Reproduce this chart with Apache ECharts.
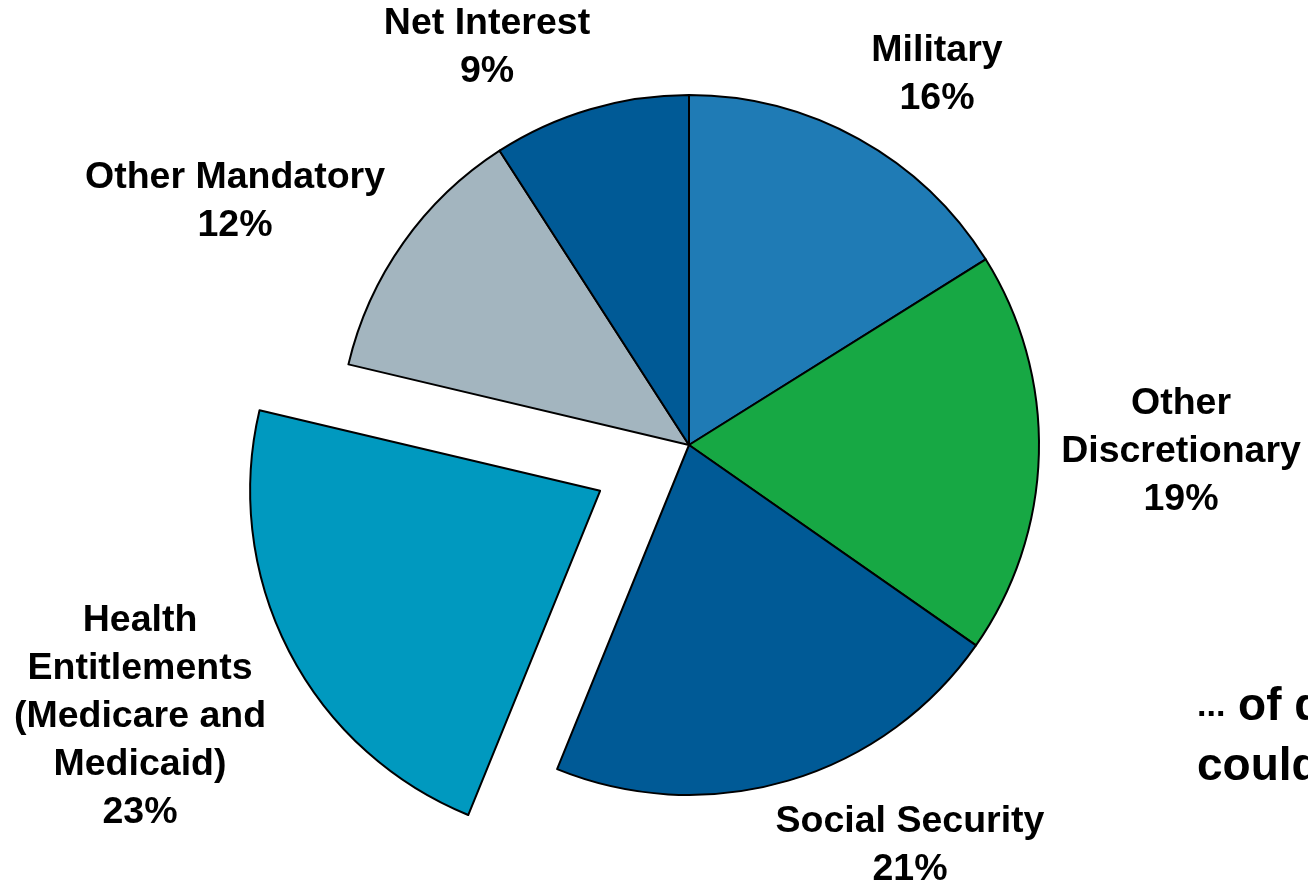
<!DOCTYPE html>
<html>
<head>
<meta charset="utf-8">
<title>Budget pie</title>
<script src="https://cdn.jsdelivr.net/npm/echarts@6/dist/echarts.min.js"></script>
<style>
  html, body { margin: 0; padding: 0; background: #fff; }
  #chart { width: 1308px; height: 885px; }
</style>
</head>
<body>
<div id="chart"></div>
<script>
// slices, clockwise from 12 o'clock (shares in %, labels show them rounded)
const categories = ['Military', 'Other\nDiscretionary', 'Social Security',
  'Health\nEntitlements\n(Medicare and\nMedicaid)', 'Other Mandatory', 'Net Interest'];
const shares = [16.1, 18.6, 21.45, 22.55, 12.2, 9.1];
const colors = ['#1f7bb5', '#17a844', '#005a96', '#0099bf', '#a3b5bf', '#005a96'];
const exploded = [false, false, false, true, false, false];

// where each label block sits (centre of the text)
const labelPos = [[937, 75], [1181, 452], [910, 846], [140, 717], [235, 202], [487, 48]];

const chart = echarts.init(document.getElementById('chart'));

const labelBase = {
  position: 'outside',
  formatter: (p) => p.name + '\n' + Math.round(p.value) + '%',
  fontFamily: 'Liberation Sans, Arial, sans-serif',
  fontWeight: 'bold',
  fontSize: 37.5,
  lineHeight: 48,
  color: '#000',
  width: 330,
  overflow: 'none'
};

const placeLabel = (params) => ({
  x: labelPos[params.dataIndex][0],
  y: labelPos[params.dataIndex][1],
  align: 'center',
  verticalAlign: 'middle'
});

// the slices; the exploded one's label would be dragged along by the select
// state, so its label comes from the invisible copy below instead
const pieData = categories.map((name, i) => ({
  name: name,
  value: shares[i],
  selected: exploded[i],
  itemStyle: { color: colors[i] },
  label: { show: !exploded[i] },
  select: { itemStyle: { color: colors[i], borderColor: '#000', borderWidth: 2 } }
}));

// invisible copy that only carries the exploded slice's label
const labelData = categories.map((name, i) => ({
  name: name,
  value: shares[i],
  label: { show: exploded[i] }
}));

chart.setOption({
  animation: false,
  series: [
    {
      type: 'pie',
      center: [689, 445],
      radius: 350,
      startAngle: 90,
      clockwise: true,
      selectedMode: 'single',
      selectedOffset: 100,
      data: pieData,
      itemStyle: {
        borderColor: '#000',
        borderWidth: 2
      },
      emphasis: { disabled: true },
      label: labelBase,
      labelLine: { show: false },
      labelLayout: placeLabel
    },
    {
      type: 'pie',
      center: [689, 445],
      radius: 350,
      startAngle: 90,
      clockwise: true,
      silent: true,
      z: 3,
      data: labelData,
      itemStyle: { color: 'rgba(0,0,0,0)', borderWidth: 0 },
      emphasis: { disabled: true },
      label: labelBase,
      labelLine: { show: false },
      labelLayout: placeLabel
    }
  ],
  graphic: [
    {
      type: 'text',
      left: 1197,
      top: 677,
      style: {
        text: '{e|...} of discretionary\ncould be cut',
        fontFamily: 'Liberation Sans, Arial, sans-serif',
        fontWeight: 'bold',
        fontSize: 46,
        lineHeight: 60,
        fill: '#000',
        rich: {
          e: { fontSize: 34, fontWeight: 'bold', fontFamily: 'Liberation Sans, Arial, sans-serif' }
        }
      }
    }
  ]
});
</script>
</body>
</html>
